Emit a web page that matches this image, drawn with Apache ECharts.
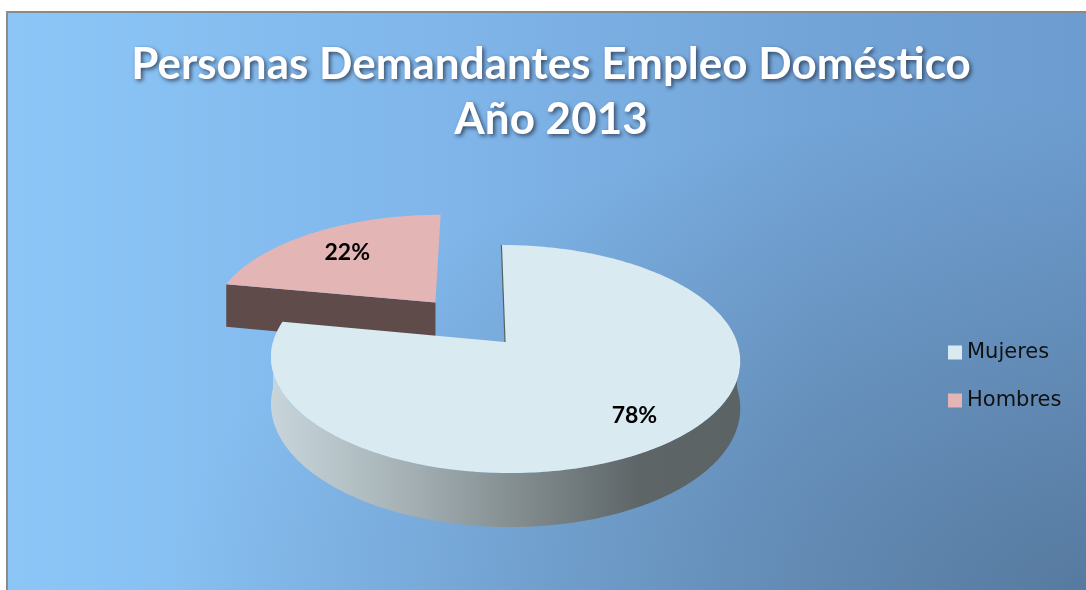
<!DOCTYPE html>
<html>
<head>
<meta charset="utf-8">
<script src="https://cdn.jsdelivr.net/npm/echarts@6/dist/echarts.min.js"></script>
<style>
  html, body { margin: 0; padding: 0; background: #ffffff; width: 1086px; height: 590px; overflow: hidden; }
  #frame {
    position: absolute; left: 6px; top: 11px; width: 1078px; height: 577px;
    border-left: 2px solid #8a8a8a; border-top: 2px solid #8a8a8a;
    background:
      radial-gradient(ellipse at 100% 100%, rgba(60,80,100,0.45) 0%, rgba(60,80,100,0) 60%),
      linear-gradient(to right, #8cc6f7 0%, #80b6ea 40%, #73a4d7 75%, #6d9dd0 100%);
  }
  #chart { width: 1078px; height: 577px; }
</style>
</head>
<body>
<div id="frame"><div id="chart"></div></div>
<script>
// Personas demandantes de empleo doméstico, año 2013 (porcentaje por sexo)
const categories = ['Mujeres', 'Hombres'];
const shares = [78, 22];
const titleLines = ['Personas Demandantes Empleo Doméstico', 'Año 2013'];

// Tilted pie drawn with a light perspective: centre, half axes, perspective factor,
// horizontal eye offset and wall height
const PIE = { cx: 497, cy: 329, ax: 232, by: 111.5, persp: 0.149, eyeU: -0.12, depth: 46 };

const wallGradient = {
  type: 'linear', global: true, x: 262, y: 0, x2: 736, y2: 0,
  colorStops: [
    { offset: 0, color: '#c8d6db' },
    { offset: 0.3, color: '#a3afb3' },
    { offset: 0.55, color: '#7f898c' },
    { offset: 0.78, color: '#5d6567' },
    { offset: 1, color: '#5b6365' }
  ]
};

const SLICE_STYLE = {
  Mujeres: { top: '#daeaf1', wall: wallGradient, cut: '#5c6466', explode: 0, labelR: 0.78, edge: '#56605f' },
  Hombres: { top: '#e3b5b4', wall: '#5e4b4a', cut: '#5e4b4a', explode: 0.486, labelR: 0.7, edge: null }
};

const total = shares.reduce((a, b) => a + b, 0);
const bounds = [];
let acc = 0;
shares.forEach(v => {
  const s = acc / total * 360;
  acc += v;
  bounds.push([s, acc / total * 360]);
});

const RAD = Math.PI / 180;

// plane coords (u to the right, v toward the viewer) -> screen
function project(u, v, drop) {
  const w = 1 - PIE.persp * v;
  return [
    PIE.cx + PIE.ax * PIE.eyeU + PIE.ax * (u - PIE.eyeU) / w,
    PIE.cy + PIE.by * v / w + (drop ? PIE.depth / w : 0)
  ];
}
// point on a slice rim; angle in degrees clockwise from the far side
function rim(c, deg, r, drop) {
  return project(c[0] + r * Math.sin(deg * RAD), c[1] - r * Math.cos(deg * RAD), drop);
}

function renderSlice(params, api) {
  const i = params.seriesIndex;
  const st = SLICE_STYLE[categories[i]];
  const [s, e] = bounds[i];
  const mid = (s + e) / 2;
  const c = [st.explode * Math.sin(mid * RAD), -st.explode * Math.cos(mid * RAD)];

  const arc = (a0, a1, drop) => {
    const pts = [];
    const n = Math.max(2, Math.ceil(Math.abs(a1 - a0)));
    for (let j = 0; j <= n; j++) pts.push(rim(c, a0 + (a1 - a0) * j / n, 1, drop));
    return pts;
  };

  const children = [];
  const apexTop = project(c[0], c[1], false);
  const apexBot = project(c[0], c[1], true);

  // curved outer wall, front half only
  const w0 = Math.max(s, 90), w1 = Math.min(e, 270);
  if (w1 > w0) {
    children.push({
      type: 'polygon',
      shape: { points: arc(w0, w1, false).concat(arc(w0, w1, true).reverse()) },
      style: { fill: st.wall }
    });
  }
  // flat cut faces that turn toward the viewer
  const cutFace = deg => ({
    type: 'polygon',
    shape: { points: [apexTop, rim(c, deg, 1, false), rim(c, deg, 1, true), apexBot] },
    style: { fill: st.cut }
  });
  if (Math.sin(s * RAD) < -0.02) children.push(cutFace(s));
  if (Math.sin(e * RAD) > 0.02) children.push(cutFace(e));

  // top face
  children.push({
    type: 'polygon',
    shape: { points: [apexTop].concat(arc(s, e, false)) },
    style: { fill: st.top }
  });
  if (st.edge) {
    const p = rim(c, s, 1, false);
    children.push({
      type: 'line',
      shape: { x1: apexTop[0], y1: apexTop[1], x2: p[0], y2: p[1] },
      style: { stroke: st.edge, lineWidth: 1.2 }
    });
  }

  // percentage label
  const lp = rim(c, mid, st.labelR, false);
  children.push({
    type: 'text', x: lp[0], y: lp[1],
    style: {
      text: api.value(0) + '%', fill: '#000000',
      font: 'bold 23px Lato, "Liberation Sans", sans-serif',
      align: 'center', verticalAlign: 'middle'
    }
  });
  return { type: 'group', children };
}

const chart = echarts.init(document.getElementById('chart'), null, { renderer: 'canvas' });

chart.setOption({
  animation: false,
  backgroundColor: 'transparent',
  title: {
    text: titleLines.join('\n'),
    left: 543, top: 24, textAlign: 'center', padding: 0,
    textStyle: {
      fontFamily: 'Lato', fontWeight: 'bold', fontSize: 44, lineHeight: 55,
      color: '#ffffff',
      textShadowColor: 'rgba(20,30,50,0.7)', textShadowBlur: 4,
      textShadowOffsetX: 2, textShadowOffsetY: 2
    }
  },
  legend: {
    orient: 'vertical', left: 940, top: 329, padding: 0,
    icon: 'rect', itemWidth: 14, itemHeight: 14, itemGap: 27,
    data: categories,
    textStyle: { fontFamily: 'DejaVu Sans', fontSize: 21, lineHeight: 20, color: '#111111' }
  },
  series: categories.map((name, i) => ({
    type: 'custom',
    name: name,
    coordinateSystem: 'none',
    z: categories.length - i,
    silent: true,
    itemStyle: { color: SLICE_STYLE[name].top },
    renderItem: renderSlice,
    data: [{ name: name, value: shares[i] }]
  }))
});
</script>
</body>
</html>
